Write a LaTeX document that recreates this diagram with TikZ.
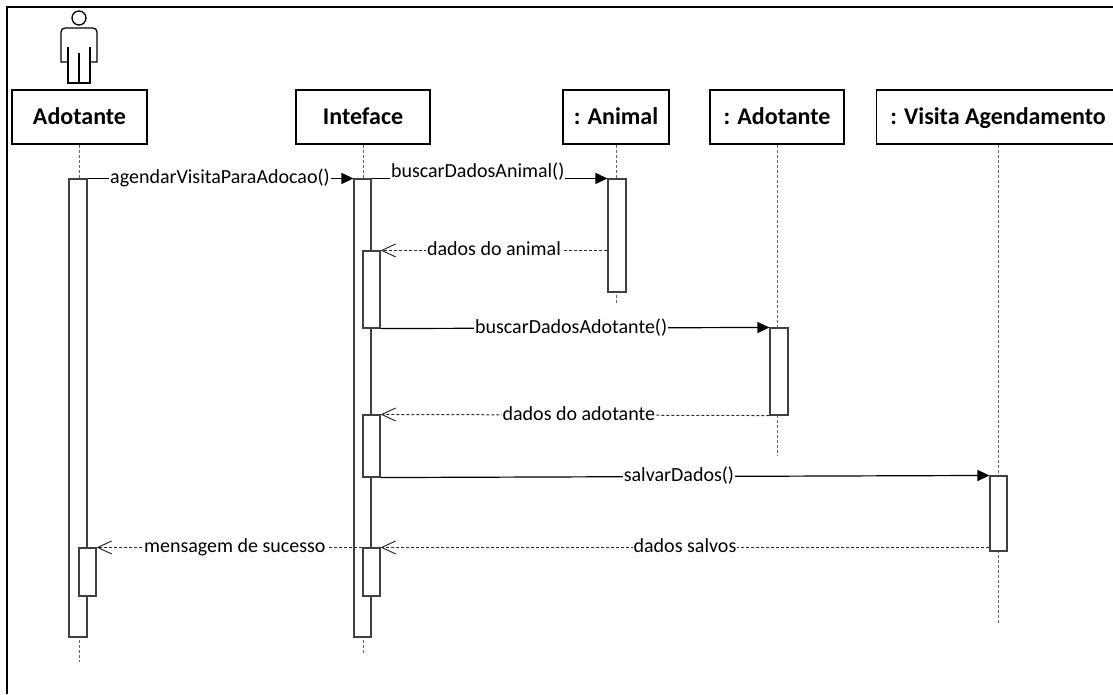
\documentclass[tikz,border=0pt]{standalone}
\usepackage{fontspec}
\setmainfont{Carlito}
\usetikzlibrary{arrows.meta}
\begin{document}
\begin{tikzpicture}[x=1pt,y=-1pt,
  headbox/.style={draw=black, line width=1.5pt, minimum width=#1, minimum height=54pt,
    inner sep=0pt, font=\fontsize{24}{28}\selectfont\bfseries, text height=15pt, text depth=0pt},
  lifeline/.style={draw=black!60, line width=1pt, dash pattern=on 3pt off 2pt},
  act/.style={draw=black!75, fill=white, line width=1.1pt, minimum width=17pt, inner sep=0pt},
  call/.style={draw=black, line width=1.2pt, -{Triangle[length=12pt,width=11pt]}},
  reply/.style={draw=black!82, line width=1pt, dash pattern=on 3pt off 2pt,
    -{Straight Barb[length=14pt,width=13pt,line width=1pt]}},
  lbl/.style={fill=white, inner sep=1pt, font=\fontsize{20}{24}\selectfont, text height=14pt, text depth=4pt},
  actorline/.style={draw=black, line width=1.3pt}
]
\useasboundingbox (0,0) rectangle (1113,694);

% frame (top and left edges visible)
\coordinate (fbl) at (7,694);
\coordinate (ftl) at (7,7);
\coordinate (ftr) at (1113,7);
\draw[line width=2pt] (fbl) -- (ftl) -- (ftr);

% actor figure
\node[circle, actorline, minimum size=14pt, inner sep=0pt] (actorhead) at (79,18) {};
\draw[actorline] (68,62) -- (61,62) -- (61,40) {[rounded corners=4pt] -- (61,28) -- (97,28) -- (97,40)} -- (97,62) -- (90,62);
\draw[actorline] (68,47) -- (68,83) -- (90,83) -- (90,47);
\draw[actorline] (79,53) -- (79,83);

% lifeline heads
\node[headbox=135pt] (hA) at (79.5,117) {Adotante};
\node[headbox=134pt] (hI) at (363,117) {Inteface};
\node[headbox=106pt] (hN) at (616,117) {: Animal};
\node[headbox=134pt] (hD) at (777,117) {: Adotante};
\begin{scope}
\clip (0,0) rectangle (1113,694);
\node[headbox=243pt] (hV) at (998,117) {: Visita Agendamento};
\end{scope}

% lifeline ends
\coordinate (eA) at (79.5,662);
\coordinate (eI) at (363,653);
\coordinate (eN) at (616,303);
\coordinate (eD) at (777,456);
\coordinate (eV) at (998,623);
\draw[lifeline] (hA.south) -- (eA);
\draw[lifeline] (hI.south) -- (eI);
\draw[lifeline] (hN.south) -- (eN);
\draw[lifeline] (hD.south) -- (eD);
\draw[lifeline] (hV.south) -- (eV);

% activations
\node[act, minimum width=18pt, minimum height=458pt] (aA) at (78,408) {};
\node[act, minimum height=458pt] (aI) at (362.5,408) {};
\node[act, minimum width=18pt, minimum height=113pt] (aN) at (617,235.5) {};
\node[act, minimum width=18pt, minimum height=87pt] (aD) at (779,371.5) {};
\node[act, minimum height=75pt] (aV) at (998.5,513.5) {};
\node[act, minimum height=77pt] (i1) at (371.5,289.5) {};
\node[act, minimum height=62pt] (i2) at (371.5,446) {};
\node[act, minimum height=48pt] (i3) at (371.5,572) {};
\node[act, minimum height=48pt] (aA2) at (87.5,572) {};

% messages
\draw[call] (aA.north east) -- node[lbl, pos=0.498] {agendarVisitaParaAdocao()} (aI.north west);
\draw[call] (aI.north east) -- node[lbl, pos=0.45, yshift=6pt] {buscarDadosAnimal()} (aN.north west);
\draw[reply] (aN.west |- i1.north) -- node[lbl, pos=0.5] {dados do animal} (i1.north east);
\draw[call] (i1.south east) -- node[lbl, pos=0.49] {buscarDadosAdotante()} (aD.north west);
\draw[reply] (aD.south west) -- node[lbl, pos=0.49] {dados do adotante} (i2.north east);
\draw[call] (i2.south east) -- node[lbl, pos=0.49] {salvarDados()} (aV.north west);
\draw[reply] (aV.west |- i3.north) -- node[lbl, pos=0.5] {dados salvos} (i3.north east);
\draw[reply] (i3.north west) -- node[lbl, pos=0.48] {mensagem de sucesso} (aA2.north east);
\end{tikzpicture}
\end{document}
